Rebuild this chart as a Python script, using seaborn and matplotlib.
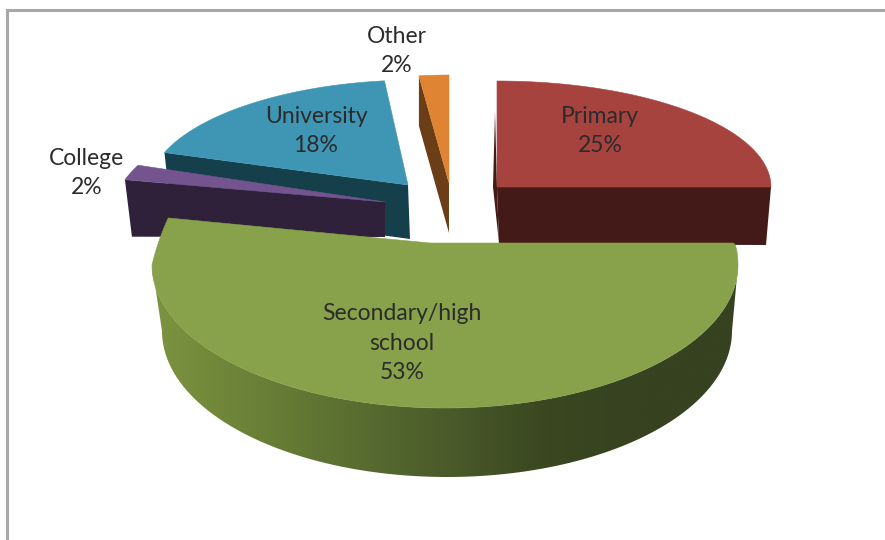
import numpy as np
import matplotlib
matplotlib.use('Agg')
import matplotlib.pyplot as plt
from matplotlib.patches import Polygon
import seaborn as sns

# data
categories = ['Primary', 'Secondary/high\nschool', 'College', 'University', 'Other']
shares = [25, 53, 2, 18, 2]
share_labels = ['25%', '53%', '2%', '18%', '2%']
top_colors = ['#A6433F', '#88A24B', '#73548F', '#3F96B4', '#DE8433']
side_colors = ['#431A17', '#4D5E2B', '#2E2139', '#163F4C', '#6B3E18']
green_ramp = ['#7B9340', '#6A8037', '#5A6E31', '#4A5A2A', '#3A4720', '#364220', '#364220']

# slice angles, clockwise from 12 o'clock
ends = np.cumsum(shares) / sum(shares) * 2 * np.pi
starts = np.r_[0, ends[:-1]]

# slice placement in pixels: apex x, apex y, rx, ry, shear, depth at apex, depth and x shift at rim
geom = {
    0: (497, 187, 274, 106, 0, 57, 58, -5),
    2: (385, 202, 272, 119, 38, 35, 57, 7),
    3: (408, 185, 259, 105, 9, 54, 54, 6),
    4: (449, 183, 240, 108, 0, 50, 50, 0),
}
label_pos = [(600, 131), (402, 343), (87, 173), (316, 131), (397, 51)]

sns.set_theme(style='white')
plt.rcParams['font.family'] = ['Lato', 'DejaVu Sans']

fig = plt.figure(figsize=(8.85, 5.4), dpi=100)
ax = fig.add_axes([0, 0, 1, 1])
ax.axis('off')

# frame
ax.plot([7, 7, 885], [540, 10, 10], color='#A8A8A8', lw=2.2, solid_joinstyle='miter')


def arc(i, n=80):
    x0, y0, rx, ry, sh = geom[i][:5]
    t = np.linspace(starts[i], ends[i], n)
    return np.c_[x0 + rx * np.sin(t) + sh * np.cos(t), y0 - ry * np.cos(t)]


def flat_slice(i):
    # top face plus the cut face turned towards the viewer
    x0, y0, rx, ry, sh, depth, rim_depth, rim_dx = geom[i]
    pts = arc(i)
    apex = np.array([x0, y0])
    if i == 0:
        outer = pts[-1]
        ax.add_patch(Polygon([(495, 112), (497, 187), (499, 243), (493, 187)], fc=side_colors[i], lw=0))
    else:
        outer = pts[0]
    ax.add_patch(Polygon([outer, apex, apex + (2 if i in (0, 3) else 0, depth), outer + (rim_dx, rim_depth)],
                         fc=side_colors[i], lw=0))
    ax.add_patch(Polygon(np.vstack([apex, pts]), fc=top_colors[i], ec=top_colors[i], lw=0.4))


for i in [3, 2, 4, 0]:
    flat_slice(i)

# Secondary slice, built in parts because of the chart's perspective
t_front = np.linspace(starts[1], 1.5 * np.pi, 180)
t_back = np.linspace(1.5 * np.pi, ends[1], 20)
u = np.linspace(0, np.pi / 2, 12)

top_front = np.c_[445 + 293 * np.sin(t_front), 265 - 143 * np.cos(t_front)]
top_back = np.c_[445 + 293 * np.sin(t_back) + 59 * np.cos(t_back), 265 - 251 * np.cos(t_back)]
corner = np.c_[733 + 5 * np.sin(u), 265 - 22 * np.cos(u)]
low_front = np.c_[447 + 285 * np.sin(t_front), 331 - 146 * np.cos(t_front)]

# wall with its left-to-right shading, clipped to the rim
wall = Polygon(np.vstack([top_front, low_front[::-1]]), fc='none', lw=0, transform=ax.transData)
ax.add_patch(wall)
shade = sns.blend_palette(green_ramp, as_cmap=True)
grad = ax.imshow(np.linspace(0, 1, 512)[None, :], cmap=shade, extent=(160, 740, 540, 200),
                 aspect='auto', interpolation='bilinear')
left_fill = ax.imshow([[0.0]], cmap=shade, vmin=0, vmax=1, extent=(148, 160, 540, 200), aspect='auto')
grad.set_clip_path(wall)
left_fill.set_clip_path(wall)

ax.add_patch(Polygon(np.vstack([[(430, 243)], corner, top_front, top_back]),
                     fc=top_colors[1], ec=top_colors[1], lw=0.4))

# data labels
for name, pct, (x, y) in zip(categories, share_labels, label_pos):
    ax.text(x, y, name + '\n' + pct, ha='center', va='center', fontsize=16.5,
            color='#2B2B2B', linespacing=1.5)

ax.set_xlim(0, 885)
ax.set_ylim(540, 0)
fig.savefig('out.png', dpi=100, facecolor='white')
